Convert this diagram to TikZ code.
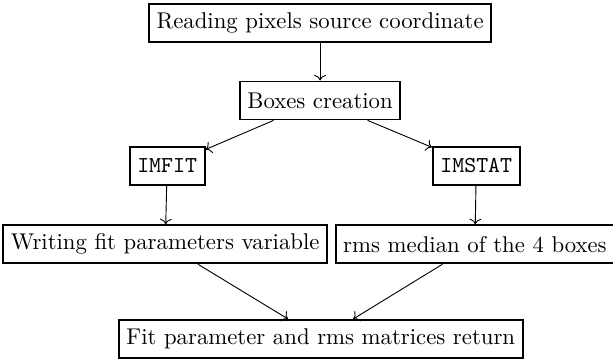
\documentclass[tikz,border=0pt]{standalone}
\usepackage{tikz}
\usetikzlibrary{positioning}
\usetikzlibrary{arrows.meta}
\tikzset{
    mynode/.style = {rectangle, thick, draw=black, align=center, fill=white, minimum height=16.7pt, text=black},
    mynodet/.style = {rectangle, thick, draw=black, align=center, fill=white, minimum height=16.7pt, font=\ttfamily, text=black},
    edgen/.style = {->, thin, black},
}
\begin{document}
\begin{tikzpicture}[scale=1.00]
\useasboundingbox (-4.94, 2.78) rectangle (4.52, -2.78);
\node[mynode]  at ( 0.00,  2.42) (1) {Reading pixels source coordinate};
\node[mynode]  at ( 0.00,  1.23) (2) {Boxes creation};
\node[mynodet] at (-2.36,  0.22) (3) {IMFIT};
\node[mynodet] at ( 2.41,  0.22) (4) {IMSTAT};
\node[mynode]  at (-2.39, -0.99) (5) {Writing fit parameters variable};
\node[mynode]  at ( 2.39, -0.99) (6) {rms median of the 4 boxes};
\node[mynode]  at ( 0.01, -2.45) (7) {Fit parameter and rms matrices return};

\draw[edgen] (1) edge (2);
\draw[edgen] (2) edge (3);
\draw[edgen] (2) edge (4);
\draw[edgen] (3) edge (5);
\draw[edgen] (4) edge (6);
\draw[edgen] (5) edge (7);
\draw[edgen] (6) edge (7);

\end{tikzpicture}
\end{document}
